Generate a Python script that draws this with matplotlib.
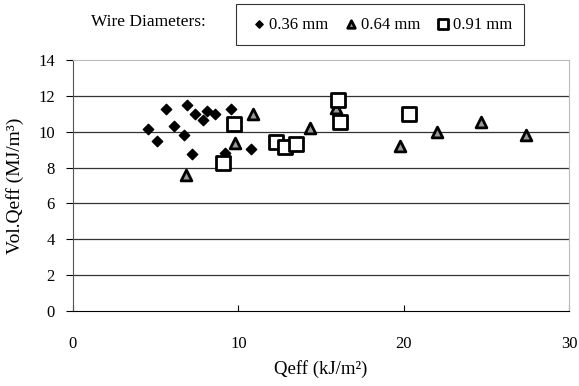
import matplotlib
matplotlib.use("agg")
import matplotlib.pyplot as plt

plt.rcParams['font.family'] = ['Liberation Serif', 'DejaVu Serif']

# 0.36 mm wire
x036 = [4.55, 5.07, 5.64, 6.1, 6.87, 6.73, 7.35, 7.21, 7.84, 8.12, 8.59, 9.54, 9.19, 10.79]
y036 = [10.15, 9.5, 11.25, 10.32, 11.49, 9.8, 10.99, 8.73, 10.63, 11.15, 10.99, 11.27, 8.79, 9.03]
# 0.64 mm wire
x064 = [6.85, 9.77, 10.86, 14.34, 15.9, 19.8, 22.0, 24.65, 27.4]
y064 = [7.58, 9.35, 11.0, 10.22, 11.3, 9.18, 10.0, 10.52, 9.81]
# 0.91 mm wire
x091 = [9.05, 9.74, 12.26, 12.83, 13.5, 16.0, 16.16, 20.3]
y091 = [8.27, 10.43, 9.44, 9.13, 9.3, 11.77, 10.56, 10.97]

labels = ['0.36 mm', '0.64 mm', '0.91 mm']

fig = plt.figure(figsize=(5.79, 3.86), dpi=100)
ax = fig.add_axes([0.126, 0.194, 0.857, 0.651])

ax.scatter(x036, y036, marker='D', s=28, color='black', zorder=3, label=labels[0])
ax.scatter(x064, y064, marker='^', s=60, facecolor='#999999', edgecolor='black',
           linewidths=2, zorder=3, label=labels[1])
ax.scatter(x091, y091, marker='s', s=110, facecolor='white', edgecolor='black',
           linewidths=2, zorder=4, label=labels[2])

ax.set_xlim(0, 30)
ax.set_ylim(0, 14)
ax.set_xticks([0, 10, 20, 30])
ax.set_yticks(range(0, 15, 2))
for y in range(2, 14, 2):
    ax.axhline(y, color='#333333', lw=0.9, zorder=1)

for s in ['top', 'right']:
    ax.spines[s].set_color('#bbbbbb')
ax.spines['left'].set_color('#555555')
ax.spines['bottom'].set_color('black')
ax.tick_params(axis='y', direction='out', length=5, labelsize=12, pad=8)
ax.tick_params(axis='x', direction='in', length=4, labelsize=12, pad=18)

ax.set_xlabel('Qeff (kJ/m\u00b2)', fontsize=13.5, labelpad=6)
ax.set_ylabel('Vol.Qeff (MJ/m\u00b3)', fontsize=14, labelpad=10)

fig.text(0.157, 0.942, 'Wire Diameters:', fontsize=12.5, va='center')
leg = fig.legend(loc='center', bbox_to_anchor=(0.657, 0.936), ncol=3, fontsize=12,
                 frameon=True, fancybox=False, edgecolor='black', handletextpad=0.0,
                 handlelength=1.2, columnspacing=0.75, borderpad=0.75, markerscale=0.7)
leg.get_frame().set_linewidth(0.8)

fig.savefig('out.png', dpi=100)
